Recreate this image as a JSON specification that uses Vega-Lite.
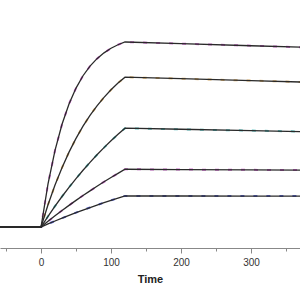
{
  "$schema": "https://vega.github.io/schema/vega-lite/v6.json",
  "width": 300,
  "height": 248,
  "autosize": "none",
  "padding": {"left": 0, "top": 0, "right": 0, "bottom": 52},
  "background": "white",
  "config": {"view": {"stroke": null}, "font": "Liberation Sans"},
  "data": {"values": [
    {"s": "c1", "t": -60, "r": 0}, {"s": "c1", "t": 0, "r": 0}, {"s": "c1", "t": 10, "r": 11.64}, {"s": "c1", "t": 20, "r": 20.71}, {"s": "c1", "t": 30, "r": 27.76}, {"s": "c1", "t": 40, "r": 33.26}, {"s": "c1", "t": 50, "r": 37.54}, {"s": "c1", "t": 60, "r": 40.88}, {"s": "c1", "t": 70, "r": 43.47}, {"s": "c1", "t": 80, "r": 45.50}, {"s": "c1", "t": 90, "r": 47.07}, {"s": "c1", "t": 100, "r": 48.30}, {"s": "c1", "t": 110, "r": 49.26}, {"s": "c1", "t": 120, "r": 50.0}, {"s": "c1", "t": 200, "r": 49.55}, {"s": "c1", "t": 300, "r": 48.99}, {"s": "c1", "t": 380, "r": 48.54},
    {"s": "c2", "t": -60, "r": 0}, {"s": "c2", "t": 0, "r": 0}, {"s": "c2", "t": 10, "r": 6.00}, {"s": "c2", "t": 20, "r": 11.33}, {"s": "c2", "t": 30, "r": 16.04}, {"s": "c2", "t": 40, "r": 20.23}, {"s": "c2", "t": 50, "r": 23.95}, {"s": "c2", "t": 60, "r": 27.24}, {"s": "c2", "t": 70, "r": 30.16}, {"s": "c2", "t": 80, "r": 32.75}, {"s": "c2", "t": 90, "r": 35.05}, {"s": "c2", "t": 100, "r": 37.09}, {"s": "c2", "t": 110, "r": 38.89}, {"s": "c2", "t": 120, "r": 40.5}, {"s": "c2", "t": 200, "r": 40.08}, {"s": "c2", "t": 300, "r": 39.56}, {"s": "c2", "t": 380, "r": 39.14},
    {"s": "c3", "t": -60, "r": 0}, {"s": "c3", "t": 0, "r": 0}, {"s": "c3", "t": 10, "r": 2.89}, {"s": "c3", "t": 20, "r": 5.63}, {"s": "c3", "t": 30, "r": 8.24}, {"s": "c3", "t": 40, "r": 10.73}, {"s": "c3", "t": 50, "r": 13.09}, {"s": "c3", "t": 60, "r": 15.34}, {"s": "c3", "t": 70, "r": 17.48}, {"s": "c3", "t": 80, "r": 19.51}, {"s": "c3", "t": 90, "r": 21.45}, {"s": "c3", "t": 100, "r": 23.29}, {"s": "c3", "t": 110, "r": 25.04}, {"s": "c3", "t": 120, "r": 26.7}, {"s": "c3", "t": 200, "r": 26.41}, {"s": "c3", "t": 300, "r": 26.05}, {"s": "c3", "t": 380, "r": 25.76},
    {"s": "c4", "t": -60, "r": 0}, {"s": "c4", "t": 0, "r": 0}, {"s": "c4", "t": 10, "r": 1.52}, {"s": "c4", "t": 20, "r": 3.01}, {"s": "c4", "t": 30, "r": 4.44}, {"s": "c4", "t": 40, "r": 5.84}, {"s": "c4", "t": 50, "r": 7.19}, {"s": "c4", "t": 60, "r": 8.50}, {"s": "c4", "t": 70, "r": 9.77}, {"s": "c4", "t": 80, "r": 11.01}, {"s": "c4", "t": 90, "r": 12.21}, {"s": "c4", "t": 100, "r": 13.37}, {"s": "c4", "t": 110, "r": 14.50}, {"s": "c4", "t": 120, "r": 15.6}, {"s": "c4", "t": 200, "r": 15.53}, {"s": "c4", "t": 300, "r": 15.44}, {"s": "c4", "t": 380, "r": 15.38},
    {"s": "c5", "t": -60, "r": 0}, {"s": "c5", "t": 0, "r": 0}, {"s": "c5", "t": 10, "r": 0.82}, {"s": "c5", "t": 20, "r": 1.62}, {"s": "c5", "t": 30, "r": 2.39}, {"s": "c5", "t": 40, "r": 3.14}, {"s": "c5", "t": 50, "r": 3.87}, {"s": "c5", "t": 60, "r": 4.58}, {"s": "c5", "t": 70, "r": 5.26}, {"s": "c5", "t": 80, "r": 5.93}, {"s": "c5", "t": 90, "r": 6.58}, {"s": "c5", "t": 100, "r": 7.20}, {"s": "c5", "t": 110, "r": 7.81}, {"s": "c5", "t": 120, "r": 8.4}, {"s": "c5", "t": 200, "r": 8.38}, {"s": "c5", "t": 300, "r": 8.36}, {"s": "c5", "t": 380, "r": 8.34}
  ]},
  "encoding": {
    "x": {"field": "t", "type": "quantitative", "scale": {"domain": [-58.6, 370], "nice": false, "zero": false},
      "axis": {"values": [-50, 0, 50, 100, 150, 200, 250, 300, 350], "labelExpr": "datum.value % 100 === 0 ? datum.label : ''", "title": "Time", "grid": false,
        "tickSize": {"condition": {"test": "datum.value % 100 !== 0", "value": 3}, "value": 5},
        "domainColor": "#888888", "tickColor": "#888888", "domainWidth": 1.2, "labelFontSize": 10, "labelColor": "#333333", "labelPadding": 4, "titleFontSize": 11, "titleFontWeight": "bold", "titleColor": "#222222", "titlePadding": 6}},
    "y": {"field": "r", "type": "quantitative", "scale": {"domain": [-5.68, 61.35], "nice": false, "zero": false}, "axis": null}
  },
  "layer": [
    {
      "mark": {"type": "line", "strokeWidth": 2, "clip": true, "opacity": 0.8, "strokeDash": [4, 9]},
      "encoding": {
        "color": {"field": "s", "type": "nominal", "legend": null, "scale": {"domain": ["c1", "c2", "c3", "c4", "c5"], "range": ["#c040c0", "#d8a048", "#30b0b0", "#c040c0", "#3040d0"]}}
      }
    },
    {
      "mark": {"type": "line", "strokeWidth": 1.3, "color": "#2a2a2a", "clip": true},
      "encoding": {
        "detail": {"field": "s", "type": "nominal"}
      }
    }
  ]
}
